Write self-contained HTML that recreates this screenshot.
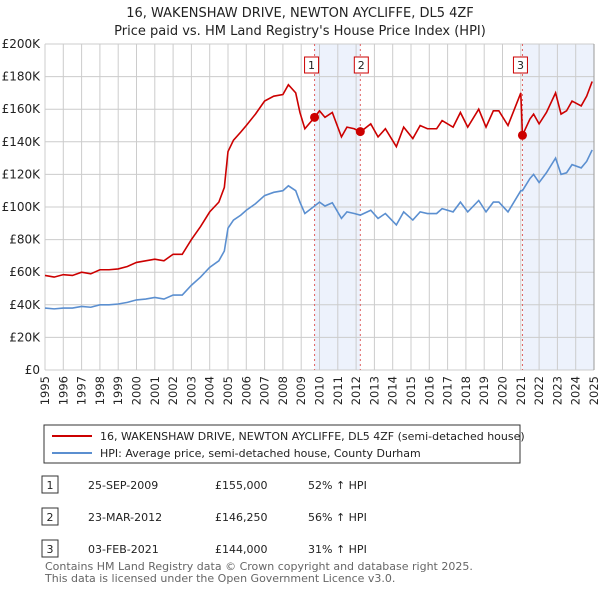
<!DOCTYPE html>
<html><head><meta charset="utf-8"><style>
body{margin:0;background:#fff;font-family:"Liberation Sans",sans-serif;}
#wrap{position:relative;width:600px;height:590px;overflow:hidden}
.t{font-family:"DejaVu Sans","Liberation Sans",sans-serif}
</style></head><body><div id="wrap">
<svg id="svg" width="600" height="590" xmlns="http://www.w3.org/2000/svg" class="t">
<text x="300" y="17" text-anchor="middle" font-size="13" fill="#222">16, WAKENSHAW DRIVE, NEWTON AYCLIFFE, DL5 4ZF</text>
<text x="300" y="35" text-anchor="middle" font-size="13" fill="#222">Price paid vs. HM Land Registry's House Price Index (HPI)</text>
<g id="plot"></g>
<rect x="44" y="425" width="476" height="38" fill="#fff" stroke="#333" stroke-width="1"/>
<line x1="52" y1="436" x2="92" y2="436" stroke="#cc0000" stroke-width="2"/>
<text x="100" y="440" font-size="11" fill="#222">16, WAKENSHAW DRIVE, NEWTON AYCLIFFE, DL5 4ZF (semi-detached house)</text>
<line x1="52" y1="453" x2="92" y2="453" stroke="#5b8fd0" stroke-width="2"/>
<text x="100" y="457" font-size="11" fill="#222">HPI: Average price, semi-detached house, County Durham</text>
<g id="tbl" font-size="11" fill="#222"></g>
<text x="45" y="570" font-size="11" fill="#666">Contains HM Land Registry data © Crown copyright and database right 2025.</text>
<text x="45" y="582" font-size="11" fill="#666">This data is licensed under the Open Government Licence v3.0.</text>
</svg></div>
<script>
const years=[1995,1995.5,1996,1996.5,1997,1997.5,1998,1998.5,1999,1999.5,2000,2000.5,2001,2001.5,2002,2002.5,2003,2003.5,2004,2004.5,2004.8,2005,2005.3,2005.7,2006,2006.5,2007,2007.5,2008,2008.3,2008.7,2008.93,2009.2,2009.73,2010,2010.3,2010.7,2011.2,2011.5,2011.9,2012.23,2012.8,2013.2,2013.6,2014.2,2014.6,2015.1,2015.5,2015.9,2016.4,2016.7,2017.3,2017.7,2018.1,2018.7,2019.1,2019.5,2019.8,2020.3,2021.0,2021.09,2021.5,2021.7,2022.0,2022.4,2022.9,2023.2,2023.5,2023.8,2024.3,2024.6,2024.9];
const hpiValues=[38,37.5,38,38,39,38.5,40,40,40.5,41.5,43,43.5,44.5,43.5,46,46,52,57,63,67,73,87,92,95,98,102,107,109,110,113,110,103,96,100.6,103,100.6,102.6,93,97,96,95,98,93,96,89,97,92,97,96,96,99,97,103,97,104,97,103,103,97,110,110,117.5,120,115,121,130,120,121,126,124,128,135];
const priceValues=[58,57,58.5,58,60,59,61.5,61.5,62,63.5,66,67,68,67,71,71,80,88,97,103,112,134,141,146,150,157,165,168,169,175,170,158,148,155,159,155,158,143,149,148,146,151,143,148,137,149,142,150,148,148,153,149,158,149,160,149,159,159,150,170,144,154,157,151,158,170,157,159,165,162,168,177];
const saleYears=[2009.73,2012.23,2021.09];
const salePrices=[155,146.25,144];
const saleLabels=["1","2","3"];
const yTicks=[0,20,40,60,80,100,120,140,160,180,200];
const xTicks=[1995,1996,1997,1998,1999,2000,2001,2002,2003,2004,2005,2006,2007,2008,2009,2010,2011,2012,2013,2014,2015,2016,2017,2018,2019,2020,2021,2022,2023,2024,2025];
const tableDates=["25-SEP-2009","23-MAR-2012","03-FEB-2021"];
const tablePrices=["£155,000","£146,250","£144,000"];
const tableHpi=["52% ↑ HPI","56% ↑ HPI","31% ↑ HPI"];
const NS="http://www.w3.org/2000/svg";
const X=y=>45+(y-1995)*(549/30), Y=v=>370-v*(326/200);
const plot=document.getElementById('plot');
function mk(t,a,p){const e=document.createElementNS(NS,t);for(const k in a)e.setAttribute(k,a[k]);(p||plot).appendChild(e);return e;}
let e;
e=mk('rect',{x:X(saleYears[0]),y:44,width:X(saleYears[1])-X(saleYears[0]),height:326,fill:'#edf2fc'});


e=mk('rect',{x:X(saleYears[2]),y:44,width:X(2025)-X(saleYears[2]),height:326,fill:'#edf2fc'});


yTicks.forEach(v=>{
 e=mk('line',{x1:45,x2:594,y1:Y(v),y2:Y(v),stroke:'#ccc','stroke-width':1});
 
 
 e=mk('text',{x:40,y:Y(v)+4,'text-anchor':'end','font-size':12,fill:'#222'});
 e.textContent=v===0?'£0':'£'+v+'K';
 
 
});
xTicks.forEach(v=>{
 e=mk('line',{x1:X(v),x2:X(v),y1:44,y2:370,stroke:'#ccc','stroke-width':1});
 
 
 const tx=X(v)+4, ty=376;
 e=mk('text',{x:tx,y:ty,'text-anchor':'end','font-size':11.5,fill:'#222',transform:'rotate(-90 '+tx+' '+ty+')'});
 e.textContent=v;
 
 
});
e=mk('line',{x1:594,x2:594,y1:44,y2:370,stroke:'#999','stroke-width':1});


saleYears.forEach((s,i)=>{
 e=mk('line',{x1:X(s),x2:X(s),y1:44,y2:370,stroke:'#e06060','stroke-width':1,'stroke-dasharray':'2,3'});
 
 
});
e=mk('polyline',{points:years.map((y,i)=>X(y)+','+Y(hpiValues[i])).join(' '),fill:'none',stroke:'#5b8fd0','stroke-width':1.6});


e=mk('polyline',{points:years.map((y,i)=>X(y)+','+Y(priceValues[i])).join(' '),fill:'none',stroke:'#cc0000','stroke-width':1.6});


saleYears.forEach((s,i)=>{
 e=mk('circle',{cx:X(s),cy:Y(salePrices[i]),r:4.5,fill:'#cc0000'});
 
 
 const g=mk('g',{});
 
 
 const off=(i===0?13:i===1?17:14);
 mk('rect',{x:X(s)-23+off,y:57,width:14,height:16,fill:'#fff',stroke:'#cc0000','stroke-width':1},g);
 const tx=mk('text',{x:X(s)-16+off,y:69,'text-anchor':'middle','font-size':11,fill:'#222'},g);
 tx.textContent=saleLabels[i];
});
const tbl=document.getElementById('tbl');
tableDates.forEach((d,i)=>{
 const y=488+i*32;
 const g=mk('g',{},tbl);
 
 
 mk('rect',{x:42,y:y-12,width:16,height:17,fill:'#fff',stroke:'#333'},g);
 let t=mk('text',{x:50,y:y+1,'text-anchor':'middle'},g);t.textContent=i+1;
 t=mk('text',{x:88,y:y+1},g);t.textContent=d;
 t=mk('text',{x:215,y:y+1},g);t.textContent=tablePrices[i];
 t=mk('text',{x:308,y:y+1},g);t.textContent=tableHpi[i];
});
</script></body></html>
